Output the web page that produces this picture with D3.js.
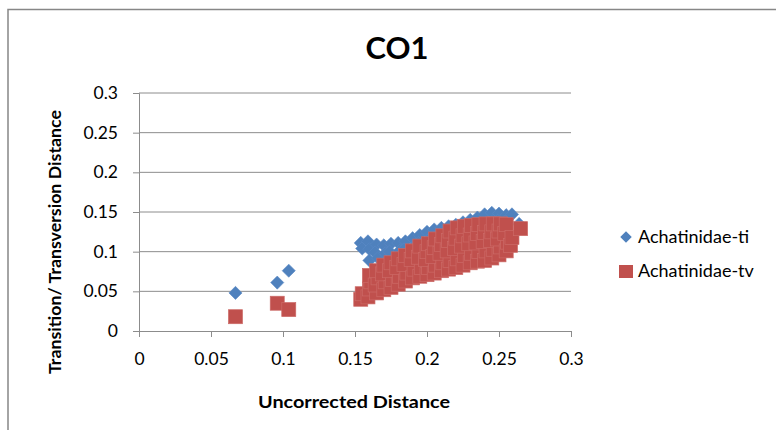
<!DOCTYPE html>
<html>
<head>
<meta charset="utf-8">
<script src="https://cdn.jsdelivr.net/npm/d3@7"></script>
<style>
  html, body { margin: 0; padding: 0; background: #fff; }
  svg { display: block; }
  text { font-family: Lato, "Open Sans", sans-serif; fill: #000; }
</style>
</head>
<body>
<svg id="chart" width="776" height="430"></svg>
<script>
// Pairwise distances for CO1: transitions (ti) and transversions (tv) against uncorrected distance
const tiPoints = [
  [0.067,0.048],[0.096,0.061],[0.104,0.076],
  [0.154,0.111],[0.155,0.104],
  [0.159,0.113],[0.160,0.103],[0.160,0.089],
  [0.165,0.109],[0.164,0.099],[0.166,0.092],
  [0.170,0.108],[0.171,0.098],
  [0.175,0.110],[0.174,0.100],
  [0.180,0.111],[0.181,0.101],
  [0.185,0.113],[0.184,0.103],
  [0.190,0.117],[0.191,0.107],
  [0.195,0.121],[0.194,0.111],
  [0.200,0.125],[0.201,0.115],
  [0.205,0.128],[0.206,0.119],
  [0.210,0.130],[0.209,0.122],
  [0.215,0.132],[0.216,0.125],
  [0.220,0.134],[0.221,0.127],
  [0.225,0.137],[0.224,0.129],
  [0.230,0.140],[0.231,0.131],
  [0.235,0.143],[0.236,0.134],
  [0.240,0.147],[0.241,0.137],
  [0.245,0.149],[0.246,0.139],
  [0.250,0.148],[0.249,0.139],
  [0.255,0.146],[0.254,0.138],
  [0.259,0.147],
  [0.264,0.135]
];

const tvPoints = [
  [0.067,0.018],[0.096,0.035],[0.104,0.027],
  [0.154,0.040],[0.155,0.047],
  [0.159,0.043],[0.160,0.053],[0.161,0.062],[0.160,0.070],
  [0.165,0.048],[0.164,0.058],[0.166,0.067],[0.165,0.076],
  [0.170,0.052],[0.171,0.062],[0.169,0.072],[0.170,0.083],
  [0.175,0.055],[0.176,0.065],[0.174,0.076],[0.175,0.086],
  [0.180,0.059],[0.181,0.069],[0.179,0.080],[0.180,0.091],
  [0.185,0.063],[0.186,0.073],[0.184,0.084],[0.185,0.095],
  [0.190,0.067],[0.191,0.078],[0.189,0.090],[0.190,0.101],
  [0.195,0.069],[0.196,0.080],[0.194,0.093],[0.195,0.107],
  [0.200,0.071],[0.201,0.080],[0.199,0.090],[0.200,0.100],[0.201,0.110],
  [0.205,0.073],[0.206,0.083],[0.204,0.094],[0.205,0.105],[0.206,0.116],
  [0.210,0.076],[0.211,0.086],[0.209,0.098],[0.210,0.109],[0.211,0.120],
  [0.215,0.078],[0.216,0.089],[0.214,0.101],[0.215,0.114],[0.216,0.126],
  [0.220,0.080],[0.221,0.091],[0.219,0.104],[0.220,0.117],[0.221,0.130],
  [0.225,0.083],[0.226,0.095],[0.224,0.107],[0.225,0.120],[0.226,0.132],
  [0.230,0.086],[0.231,0.098],[0.229,0.110],[0.230,0.121],[0.231,0.133],
  [0.235,0.088],[0.236,0.100],[0.234,0.111],[0.235,0.123],[0.236,0.134],
  [0.240,0.089],[0.241,0.101],[0.239,0.113],[0.240,0.124],[0.241,0.135],
  [0.245,0.092],[0.246,0.103],[0.244,0.114],[0.245,0.125],[0.246,0.135],
  [0.250,0.096],[0.251,0.106],[0.249,0.116],[0.250,0.126],[0.251,0.135],
  [0.255,0.101],[0.256,0.112],[0.254,0.123],[0.255,0.134],
  [0.258,0.108],[0.259,0.118],
  [0.265,0.129]
];

const xTicks = [0, 0.05, 0.1, 0.15, 0.2, 0.25, 0.3];
const yTicks = [0, 0.05, 0.1, 0.15, 0.2, 0.25, 0.3];
const seriesNames = ["Achatinidae-ti", "Achatinidae-tv"];
const seriesColors = ["#4F81BD", "#C0504D"];

const svg = d3.select("#chart");
const plot = { left: 139, right: 571, top: 93, bottom: 331 };

const x = d3.scaleLinear().domain([0, 0.3]).range([plot.left, plot.right]);
const y = d3.scaleLinear().domain([0, 0.3]).range([plot.bottom, plot.top]);

// outer chart frame
svg.append("rect")
  .attr("x", 8).attr("y", 9.5)
  .attr("width", 800).attr("height", 500)
  .attr("fill", "none")
  .attr("stroke", "#878787")
  .attr("stroke-width", 1.5);

// horizontal gridlines
svg.append("g")
  .selectAll("line")
  .data(yTicks.filter(d => d > 0))
  .join("line")
  .attr("x1", plot.left).attr("x2", plot.right)
  .attr("y1", d => y(d)).attr("y2", d => y(d))
  .attr("stroke", "#8c8c8c")
  .attr("stroke-width", 1);

// y axis
const yAxis = svg.append("g")
  .attr("transform", `translate(${plot.left},0)`)
  .call(d3.axisLeft(y).tickValues(yTicks).tickFormat(d3.format("")).tickSize(6).tickPadding(15));
yAxis.select(".domain").attr("stroke", "#8c8c8c");
yAxis.selectAll(".tick line").attr("stroke", "#8c8c8c");
yAxis.selectAll(".tick text")
  .attr("font-size", 17.5)
  .attr("fill", "#000")
  .style("font-family", "Lato, sans-serif");

// x axis
const xAxis = svg.append("g")
  .attr("transform", `translate(0,${plot.bottom})`)
  .call(d3.axisBottom(x).tickValues(xTicks).tickFormat(d3.format("")).tickSize(6).tickPadding(16));
xAxis.select(".domain").attr("stroke", "#8c8c8c");
xAxis.selectAll(".tick line").attr("stroke", "#8c8c8c");
xAxis.selectAll(".tick text")
  .attr("font-size", 17.5)
  .attr("fill", "#000")
  .style("font-family", "Lato, sans-serif");

// ti series: diamonds
const diamond = d3.symbol().type(d3.symbolDiamond2).size(110);
svg.append("g")
  .selectAll("path")
  .data(tiPoints)
  .join("path")
  .attr("d", diamond)
  .attr("transform", d => `translate(${x(d[0])},${y(d[1])})`)
  .attr("fill", seriesColors[0])
  .attr("stroke", "#5A8AC6")
  .attr("stroke-width", 0.6);

// tv series: squares
const sq = 14;
svg.append("g")
  .selectAll("rect")
  .data(tvPoints)
  .join("rect")
  .attr("x", d => x(d[0]) - sq / 2)
  .attr("y", d => y(d[1]) - sq / 2)
  .attr("width", sq).attr("height", sq)
  .attr("fill", seriesColors[1])
  .attr("stroke", "#CC6A67")
  .attr("stroke-width", 0.7);

// title
svg.append("text")
  .attr("x", 397).attr("y", 59)
  .attr("text-anchor", "middle")
  .attr("font-size", 31)
  .attr("font-weight", "bold")
  .text("CO1");

// axis titles
svg.append("text")
  .attr("x", 354).attr("y", 408)
  .attr("text-anchor", "middle")
  .attr("font-size", 17)
  .attr("font-weight", "bold")
  .attr("textLength", 192)
  .attr("lengthAdjust", "spacingAndGlyphs")
  .text("Uncorrected Distance");

svg.append("text")
  .attr("transform", "translate(61,242) rotate(-90)")
  .attr("text-anchor", "middle")
  .attr("font-size", 17)
  .attr("font-weight", "bold")
  .attr("textLength", 264)
  .attr("lengthAdjust", "spacingAndGlyphs")
  .text("Transition/ Transversion Distance");

// legend
const legend = svg.append("g");
legend.append("path")
  .attr("d", d3.symbol().type(d3.symbolDiamond2).size(85))
  .attr("transform", "translate(626,237)")
  .attr("fill", seriesColors[0]);
legend.append("rect")
  .attr("x", 619).attr("y", 265)
  .attr("width", 14).attr("height", 13)
  .attr("fill", seriesColors[1]);
legend.selectAll("text.lg")
  .data(seriesNames)
  .join("text")
  .attr("class", "lg")
  .attr("x", 638)
  .attr("y", (d, i) => 243 + i * 34)
  .attr("font-size", 18)
  .text(d => d);
</script>
</body>
</html>
